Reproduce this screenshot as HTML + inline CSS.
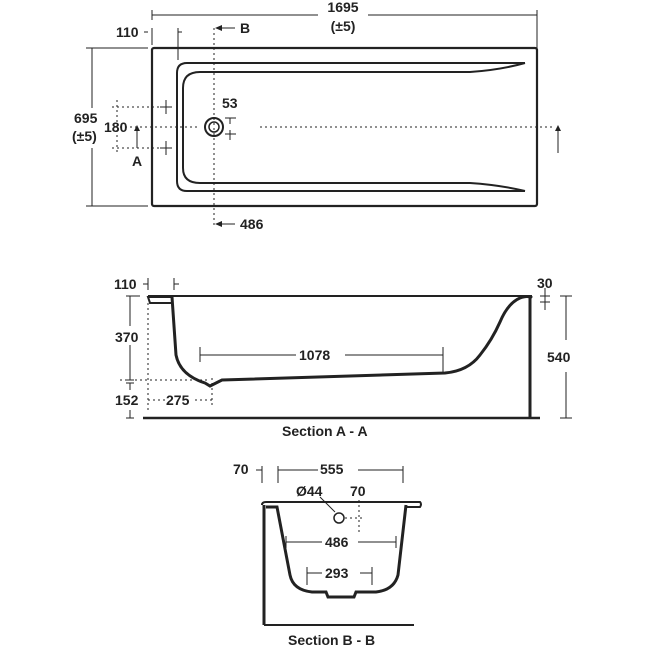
<!DOCTYPE html>
<html><head><style>
html,body{margin:0;padding:0;background:#fff;}
svg{display:block;}
text{font-family:"Liberation Sans",sans-serif;font-weight:bold;font-size:14px;fill:#222;}
</style></head><body>
<svg width="650" height="650" viewBox="0 0 650 650" xmlns="http://www.w3.org/2000/svg">
<g stroke="#222" fill="none">
<rect x="152" y="48" width="385" height="158" rx="2" stroke-width="2.2"/>
<path d="M525,63 L187,63 Q177,63 177,73 L177,181 Q177,191 187,191 L525,191" stroke-width="2"/>
<path d="M525,63 Q500,70 470,72 L200,72 Q183,72 183,88 L183,168 Q183,183 200,183 L470,183 Q500,185 525,191" stroke-width="2"/>
<circle cx="214" cy="127" r="9" stroke-width="2"/>
<circle cx="214" cy="127" r="5" stroke-width="1.5"/>
<g stroke-width="1" stroke-dasharray="2,3">
<line x1="214" y1="28" x2="214" y2="228"/>
<line x1="260" y1="127" x2="555" y2="127"/>
<line x1="112" y1="107" x2="170" y2="107"/>
<line x1="112" y1="148" x2="170" y2="148"/>
<line x1="117" y1="100" x2="117" y2="155"/>
<line x1="120" y1="127" x2="200" y2="127"/>
</g>
<g stroke-width="1">
<line x1="152" y1="15" x2="318" y2="15"/><line x1="368" y1="15" x2="537" y2="15"/>
<line x1="152" y1="10" x2="152" y2="20"/><line x1="537" y1="10" x2="537" y2="48"/>
<line x1="144" y1="32" x2="148" y2="32"/><line x1="152" y1="28" x2="152" y2="45"/>
<line x1="178" y1="28" x2="178" y2="60"/><line x1="178" y1="32" x2="182" y2="32"/>
<line x1="92" y1="48" x2="92" y2="108"/><line x1="92" y1="148" x2="92" y2="206"/>
<line x1="86" y1="48" x2="148" y2="48"/><line x1="86" y1="206" x2="148" y2="206"/>
<line x1="222" y1="28" x2="235" y2="28"/><line x1="222" y1="224" x2="235" y2="224"/>
<line x1="230" y1="118" x2="230" y2="124"/><line x1="225" y1="118" x2="236" y2="118"/>
<line x1="230" y1="130" x2="230" y2="140"/><line x1="225" y1="134" x2="236" y2="134"/>
<line x1="137" y1="130" x2="137" y2="148"/><line x1="558" y1="130" x2="558" y2="153"/>
<line x1="166" y1="100" x2="166" y2="114"/><line x1="160" y1="107" x2="172" y2="107"/>
<line x1="166" y1="141" x2="166" y2="155"/><line x1="160" y1="148" x2="172" y2="148"/>
</g>
<g fill="#222" stroke="none">
<path d="M215,28 L222,25 L222,31Z"/><path d="M215,224 L222,221 L222,227Z"/>
<path d="M137,125 L134,131 L140,131Z"/><path d="M558,125 L555,131 L561,131Z"/>
</g>
<line x1="148" y1="296" x2="532" y2="296" stroke-width="2"/>
<line x1="143" y1="418" x2="540" y2="418" stroke-width="2.5"/>
<line x1="530" y1="298" x2="530" y2="418" stroke-width="3"/>
<path d="M148,297 L172,297 L172,303 L150,303 Z" stroke-width="2"/>
<path d="M172,297 L176,355 Q180,375 205,383 L210,386 L218,382 L222,380 L445,373 Q468,371 480,355 Q492,340 500,322 Q508,303 520,298 Q528,295 532,298" stroke-width="3"/>
<g stroke-width="1" stroke-dasharray="2,3">
<line x1="148" y1="303" x2="148" y2="410"/>
<line x1="212" y1="378" x2="212" y2="408"/>
<line x1="148" y1="400" x2="165" y2="400"/><line x1="195" y1="400" x2="212" y2="400"/>
<line x1="120" y1="380" x2="210" y2="380"/>
</g>
<g stroke-width="1">
<line x1="130" y1="296" x2="130" y2="326"/><line x1="130" y1="345" x2="130" y2="380"/>
<line x1="126" y1="296" x2="140" y2="296"/><line x1="126" y1="380" x2="134" y2="380"/>
<line x1="130" y1="383" x2="130" y2="390"/><line x1="130" y1="410" x2="130" y2="418"/>
<line x1="126" y1="383" x2="134" y2="383"/><line x1="126" y1="418" x2="134" y2="418"/>
<line x1="148" y1="278" x2="148" y2="290"/><line x1="143" y1="284" x2="148" y2="284"/>
<line x1="174" y1="278" x2="174" y2="290"/><line x1="174" y1="284" x2="179" y2="284"/>
<line x1="200" y1="347" x2="200" y2="362"/><line x1="443" y1="347" x2="443" y2="372"/>
<line x1="200" y1="355" x2="296" y2="355"/><line x1="345" y1="355" x2="443" y2="355"/>
<line x1="566" y1="296" x2="566" y2="340"/><line x1="566" y1="372" x2="566" y2="418"/>
<line x1="560" y1="296" x2="572" y2="296"/><line x1="560" y1="418" x2="572" y2="418"/>
<line x1="545" y1="288" x2="545" y2="310"/><line x1="540" y1="296" x2="550" y2="296"/><line x1="540" y1="302" x2="550" y2="302"/>
</g>
<path d="M262,505 Q262,502 266,502 L420,502 Q422,504 420,507 L405,507" stroke-width="2"/>
<line x1="264" y1="505" x2="264" y2="625" stroke-width="3"/>
<line x1="264" y1="625" x2="414" y2="625" stroke-width="2"/>
<path d="M266,507 L277,507 L290,575 Q293,590 312,592 L326,592 L328,597 L354,597 L356,592 L376,592 Q394,590 398,575 L406,505" stroke-width="3"/>
<circle cx="339" cy="518" r="5" stroke-width="1.5"/>
<g stroke-width="1" stroke-dasharray="2,3">
<line x1="359" y1="500" x2="359" y2="535"/><line x1="345" y1="518" x2="365" y2="518"/>
</g>
<g stroke-width="1">
<line x1="320" y1="497" x2="335" y2="512"/>
<line x1="262" y1="466" x2="262" y2="483"/><line x1="256" y1="470" x2="262" y2="470"/>
<line x1="278" y1="466" x2="278" y2="483"/><line x1="403" y1="466" x2="403" y2="483"/>
<line x1="278" y1="470" x2="318" y2="470"/><line x1="358" y1="470" x2="403" y2="470"/>
<line x1="286" y1="536" x2="286" y2="548"/><line x1="396" y1="536" x2="396" y2="548"/>
<line x1="286" y1="542" x2="322" y2="542"/><line x1="358" y1="542" x2="396" y2="542"/>
<line x1="307" y1="567" x2="307" y2="585"/><line x1="372" y1="567" x2="372" y2="585"/>
<line x1="307" y1="573" x2="322" y2="573"/><line x1="360" y1="573" x2="372" y2="573"/>
</g>
</g>
<text x="343" y="12" text-anchor="middle">1695</text>
<text x="343" y="31" text-anchor="middle">(±5)</text>
<text x="116" y="37">110</text>
<text x="240" y="33">B</text>
<text x="240" y="229">486</text>
<text x="222" y="108">53</text>
<text x="74" y="123">695</text>
<text x="72" y="141">(±5)</text>
<text x="104" y="132">180</text>
<text x="132" y="166">A</text>
<text x="114" y="289">110</text>
<text x="537" y="288">30</text>
<text x="115" y="342">370</text>
<text x="299" y="360">1078</text>
<text x="547" y="362">540</text>
<text x="115" y="405">152</text>
<text x="166" y="405">275</text>
<text x="282" y="436">Section A - A</text>
<text x="233" y="474">70</text>
<text x="320" y="474">555</text>
<text x="296" y="496">Ø44</text>
<text x="350" y="496">70</text>
<text x="325" y="547">486</text>
<text x="325" y="578">293</text>
<text x="288" y="645">Section B - B</text>
</svg>
</body></html>
